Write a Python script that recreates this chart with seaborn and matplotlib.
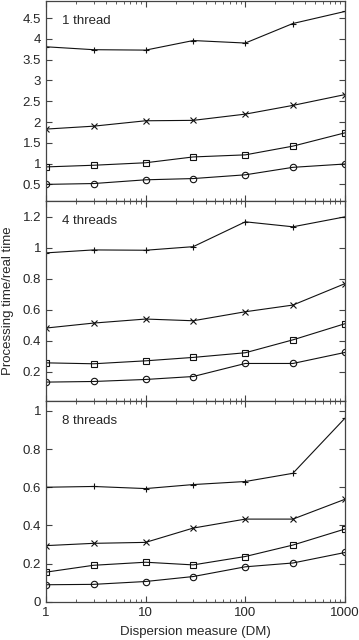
import numpy as np
import pandas as pd
import matplotlib
matplotlib.use('Agg')
import matplotlib.pyplot as plt
import seaborn as sns
from matplotlib.ticker import LogLocator, FixedLocator, NullFormatter, FuncFormatter

sns.set_style('ticks')
plt.rcParams['font.family'] = ['Liberation Sans', 'DejaVu Sans']

# dispersion measures
dm = [1, 3, 10, 30, 100, 300, 1000]

# 1 thread
t1_plus = [3.81, 3.74, 3.73, 3.96, 3.90, 4.37, 4.66]
t1_cross = [1.83, 1.90, 2.03, 2.04, 2.19, 2.40, 2.66]
t1_square = [0.92, 0.96, 1.02, 1.16, 1.21, 1.42, 1.74]
t1_circle = [0.50, 0.52, 0.61, 0.64, 0.73, 0.91, 0.99]

# 4 threads
t4_plus = [0.966, 0.985, 0.983, 1.006, 1.166, 1.134, 1.198]
t4_cross = [0.482, 0.514, 0.540, 0.529, 0.587, 0.630, 0.768]
t4_square = [0.258, 0.252, 0.271, 0.293, 0.323, 0.406, 0.510]
t4_circle = [0.134, 0.138, 0.151, 0.170, 0.254, 0.254, 0.325]

# 8 threads
t8_plus = [0.600, 0.604, 0.593, 0.614, 0.630, 0.673, 0.962]
t8_cross = [0.294, 0.306, 0.311, 0.386, 0.433, 0.433, 0.537]
t8_square = [0.155, 0.191, 0.207, 0.193, 0.237, 0.297, 0.381]
t8_circle = [0.089, 0.091, 0.106, 0.132, 0.183, 0.203, 0.258]

panel_titles = ['1 thread', '4 threads', '8 threads']
panel_series = [
    [t1_plus, t1_cross, t1_square, t1_circle],
    [t4_plus, t4_cross, t4_square, t4_circle],
    [t8_plus, t8_cross, t8_square, t8_circle],
]
panel_ylims = [(0.1, 4.92), (0.01, 1.30), (0.0, 1.05)]
panel_yticks = [
    [0.5, 1, 1.5, 2, 2.5, 3, 3.5, 4, 4.5],
    [0.2, 0.4, 0.6, 0.8, 1, 1.2],
    [0, 0.2, 0.4, 0.6, 0.8, 1],
]
markers = ['+', 'x', 's', 'o']

fig, axes = plt.subplots(3, 1, figsize=(3.59, 6.40), dpi=100, sharex=True)
fig.subplots_adjust(left=0.128, right=0.961, bottom=0.0598, top=0.999, hspace=0)

fs = 9.5
for ax, title, series, ylim, yt in zip(axes, panel_titles, panel_series, panel_ylims, panel_yticks):
    for vals, m in zip(series, markers):
        kw = dict(marker=m, color='#111111', linewidth=0.8, markersize=4.8,
                  markeredgewidth=0.8, markeredgecolor='#111111')
        if m in ('s', 'o'):
            kw['markerfacecolor'] = 'none'
            kw['markersize'] = 4.6
        sns.lineplot(x=dm, y=vals, ax=ax, **kw)
    ax.set_xscale('log')
    ax.set_xlim(1, 1000)
    ax.set_ylim(*ylim)
    ax.yaxis.set_major_locator(FixedLocator(yt))
    ax.yaxis.set_major_formatter(FuncFormatter(lambda v, p: ('%g' % v)))
    ax.xaxis.set_major_locator(LogLocator(base=10))
    ax.xaxis.set_minor_locator(LogLocator(base=10, subs=np.arange(2, 10)))
    ax.xaxis.set_minor_formatter(NullFormatter())
    ax.tick_params(which='both', direction='in', top=True, right=True, labelsize=fs,
                   color='#444444')
    ax.tick_params(which='major', length=4, width=0.8)
    ax.tick_params(which='minor', length=2.5, width=0.6)
    for s in ax.spines.values():
        s.set_linewidth(0.9)
        s.set_color('#444444')
    ax.text(0.055, 0.93, title, transform=ax.transAxes, fontsize=fs, va='top', ha='left')
    ax.set_xlabel('')
    ax.set_ylabel('')

axes[-1].xaxis.set_major_formatter(FuncFormatter(lambda v, p: '%d' % v))
axes[-1].set_xlabel('Dispersion measure (DM)', fontsize=fs, labelpad=5)
axes[1].set_ylabel('Processing time/real time', fontsize=fs, labelpad=6)

fig.savefig('out.png', dpi=100)
